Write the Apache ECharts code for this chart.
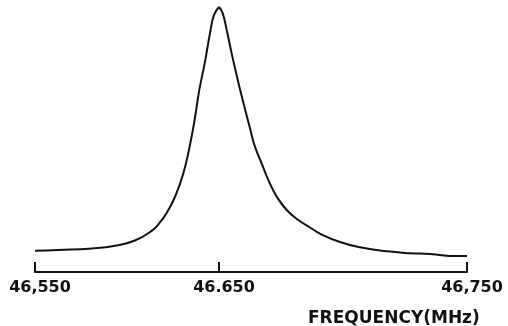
<!DOCTYPE html>
<html>
<head>
<meta charset="utf-8">
<script src="https://cdn.jsdelivr.net/npm/echarts@6/dist/echarts.min.js"></script>
<style>
  html, body { margin: 0; padding: 0; background: #fff; }
  #chart { width: 508px; height: 326px; }
</style>
</head>
<body>
<div id="chart"></div>
<script>
// 频率 (MHz) 与相对幅度，峰值两侧分开（原图两半刻度不等宽）
const freqLeft = [46.550, 46.5625, 46.581, 46.5935, 46.6043, 46.6134, 46.6179, 46.6216, 46.6261,
  46.6306, 46.6342, 46.637, 46.6393, 46.6424, 46.6451, 46.6473, 46.650];
const ampLeft = [8.0, 8.3, 8.9, 9.9, 11.9, 15.5, 18.7, 22.4, 28.4,
  37.2, 47.9, 58.5, 68.7, 79.4, 90.1, 97.0, 100];

const freqRight = [46.650, 46.6515, 46.6531, 46.6551, 46.6571, 46.6592, 46.6625, 46.6645, 46.6672,
  46.6699, 46.6733, 46.6773, 46.682, 46.6867, 46.6907, 46.6988, 46.7069, 46.719, 46.727, 46.7351,
  46.7458, 46.750];
const ampRight = [100, 97.6, 91.3, 82.5, 74.3, 66.2, 54.2, 47.3, 41.0,
  34.7, 28.4, 23.4, 19.6, 16.8, 14.5, 11.3, 9.3, 7.7, 7.1, 6.8,
  6.0, 6.0];

const tickValues = [46.55, 46.65, 46.75];
const tickLabels = ['46,550', '46.650', '46,750'];

const labelFont = { color: '#111', fontFamily: 'DejaVu Sans', fontWeight: 'bold', fontSize: 16 };

function tickLabel(v) {
  const i = tickValues.findIndex(t => Math.abs(t - v) < 1e-6);
  return i >= 0 ? tickLabels[i] : '';
}

function xAxisFor(idx, min, max, ticks, labels) {
  return {
    type: 'value', gridIndex: idx, min: min, max: max,
    axisLine: { show: true, lineStyle: { color: '#111', width: 2 } },
    axisTick: { show: true, inside: true, length: 10, customValues: ticks, lineStyle: { color: '#111', width: 2 } },
    axisLabel: Object.assign({ show: true, margin: 8, customValues: labels, formatter: tickLabel, padding: [0, 0, 0, 10] }, labelFont),
    splitLine: { show: false }
  };
}

function yAxisFor(idx) {
  return { type: 'value', gridIndex: idx, min: 0, max: 100, show: false };
}

const curve = {
  type: 'line', smooth: 0.5, showSymbol: false,
  lineStyle: { color: '#111', width: 2 }
};

const chart = echarts.init(document.getElementById('chart'), null, { renderer: 'canvas' });
chart.setOption({
  backgroundColor: '#fff',
  animation: false,
  title: {
    text: 'FREQUENCY(MHz)',
    left: 303, top: 305,
    textStyle: { color: '#111', fontFamily: 'DejaVu Sans', fontWeight: 'bold', fontSize: 17 }
  },
  grid: [
    { left: 35, width: 184, top: 7, bottom: 54 },
    { left: 219, width: 248, top: 7, bottom: 54 }
  ],
  xAxis: [
    xAxisFor(0, 46.55, 46.65, [46.55, 46.65], [46.55, 46.65]),
    xAxisFor(1, 46.65, 46.75, [46.75], [46.75])
  ],
  yAxis: [yAxisFor(0), yAxisFor(1)],
  series: [
    Object.assign({}, curve, { xAxisIndex: 0, yAxisIndex: 0, data: freqLeft.map((f, i) => [f, ampLeft[i]]) }),
    Object.assign({}, curve, { xAxisIndex: 1, yAxisIndex: 1, data: freqRight.map((f, i) => [f, ampRight[i]]) })
  ]
});
</script>
</body>
</html>
